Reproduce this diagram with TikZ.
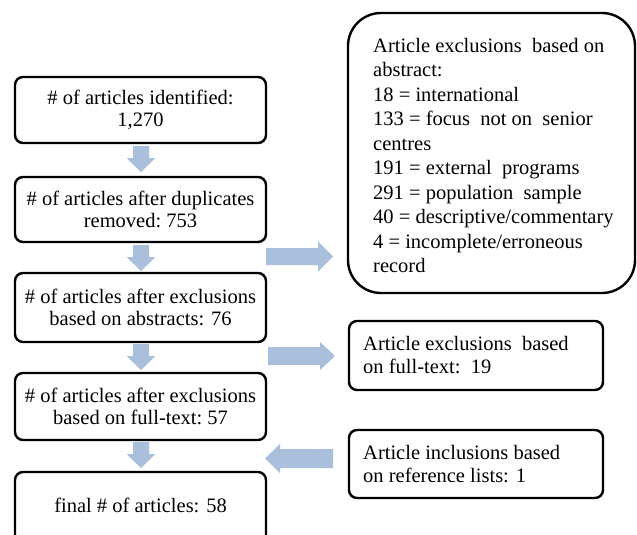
\documentclass[tikz,border=0pt]{standalone}
\usepackage{fontspec}
\setmainfont{Liberation Serif}
\definecolor{arrowblue}{RGB}{169,191,220}
\newcommand\mydarr[2]{% center x, top y
  \fill[arrowblue] (#1-8,#2) -- (#1+8,#2) -- (#1+8,#2+12) -- (#1+14.5,#2+12)
    -- (#1,#2+26) -- (#1-14.5,#2+12) -- (#1-8,#2+12) -- cycle;}
\begin{document}
\begin{tikzpicture}[x=1pt,y=-1pt,
  box/.style={draw, line width=2.4pt, rounded corners=8pt, minimum width=251pt,
    align=center, inner sep=0pt, font=\fontsize{20.5}{22}\selectfont},
  sidebox/.style={draw, line width=2.4pt, rounded corners=8pt, minimum width=254pt, inner sep=0pt},
  sidetext/.style={anchor=north west, align=left, inner sep=0pt, font=\fontsize{20.5}{23.5}\selectfont},
  bigtext/.style={anchor=north west, align=left, inner sep=0pt, font=\fontsize{20.5}{24.5}\selectfont}]
\clip (0,0) rectangle (637,535);
\fill[white] (0,0) rectangle (637,535);
% left column
\node[box, minimum height=66pt] (b1) at (140.5,110) {\# of articles identified:\\1,270};
\node[box, minimum height=65pt] (b2) at (140.5,209.5) {\# of articles after duplicates\\removed:\ 753};
\node[box, minimum height=69pt] (b3) at (140.5,307.5) {\# of articles after exclusions\\based on abstracts: 76};
\node[box, minimum height=67pt] (b4) at (140.5,406.5) {\# of articles after exclusions\\based on full-text:\ 57};
\node[box, minimum height=76pt] (b5) at (140.5,510) {};
\node[align=center, inner sep=0pt, font=\fontsize{20.5}{22}\selectfont] (t5) at (140.5,505) {final \# of articles: 58};
% down arrows
\mydarr{141}{146}
\mydarr{141}{245}
\mydarr{141}{344}
\mydarr{141}{442}
% big right box
\node[draw, line width=2.4pt, rounded corners=33pt, minimum width=287pt, minimum height=280pt, inner sep=0pt] (r1) at (491.5,153) {};
\node[bigtext] (r1t) at (373,38) {Article exclusions\ \ based on\\abstract:\\18 = international\\133 = focus\ \ not on\ \ senior\\centres\\191 = external\ \ programs\\291 = population\ \ sample\\40 = descriptive/commentary\\4 = incomplete/erroneous\\record};
% small right boxes
\node[sidebox, minimum height=69pt] (r2) at (476,355.5) {};
\node[sidetext] (r2t) at (363,336) {Article exclusions\ \ based\\on full-text:\ \ 19};
\node[sidebox, minimum height=68pt] (r3) at (476,464) {};
\node[sidetext] (r3t) at (363,445) {Article inclusions\ based\\on reference lists: 1};
% horizontal block arrows
\fill[arrowblue] (266,248) -- (318,248) -- (318,241.5) -- (333,256.5) -- (318,271.5) -- (318,265) -- (266,265) -- cycle;
\fill[arrowblue] (268,347) -- (320,347) -- (320,342) -- (335,356) -- (320,370) -- (320,365) -- (268,365) -- cycle;
\fill[arrowblue] (333,449) -- (280,449) -- (280,444) -- (265,458.5) -- (280,473) -- (280,468) -- (333,468) -- cycle;
\end{tikzpicture}
\end{document}
